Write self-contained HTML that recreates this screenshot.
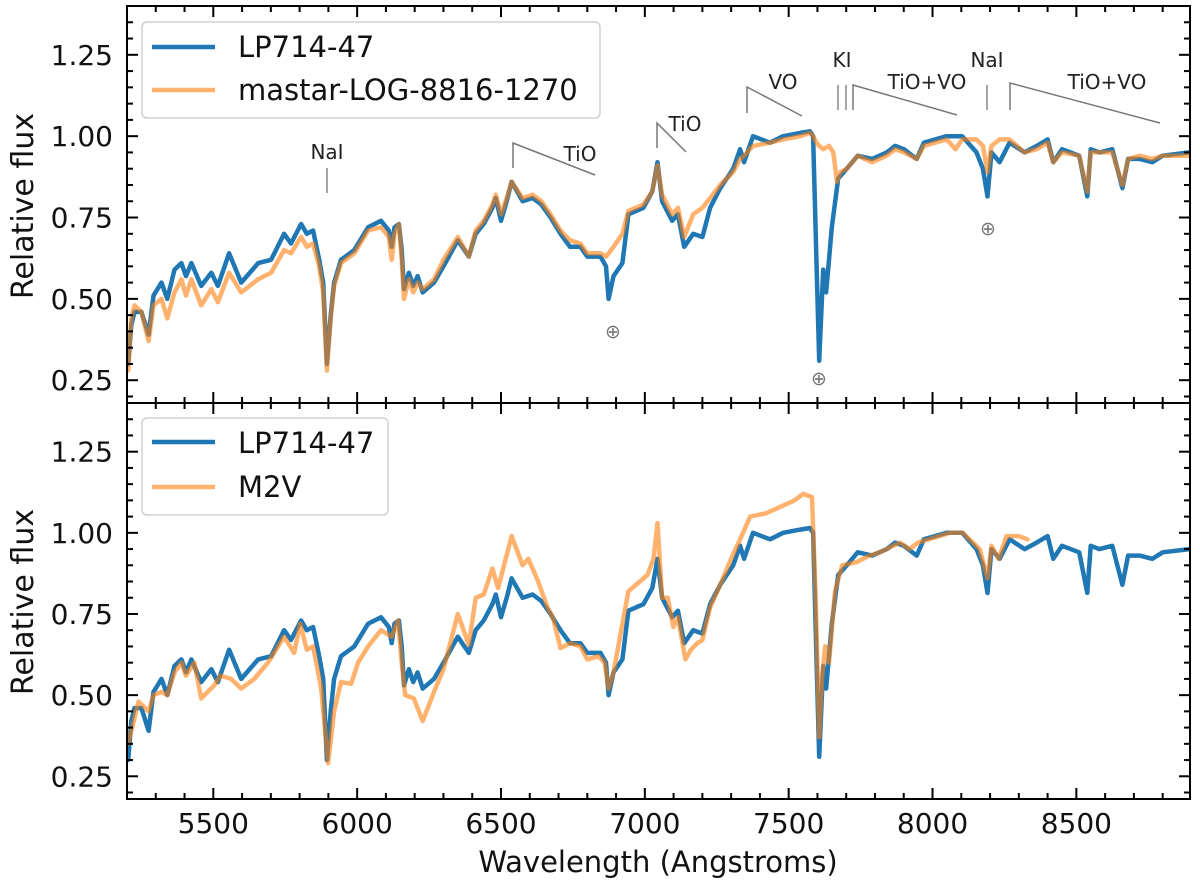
<!DOCTYPE html>
<html><head><meta charset="utf-8"><style>
html,body{margin:0;padding:0;background:#fff;}
svg{display:block;font-family:"DejaVu Sans","Liberation Sans",sans-serif;}
</style></head><body>
<svg id="chart" width="1200" height="890" viewBox="0 0 1200 890" xmlns="http://www.w3.org/2000/svg">
<g id="top-panel"></g>
<g id="bottom-panel"></g>
<g id="annotations" font-size="20" fill="#222" stroke="none">
  <text x="327" y="159" text-anchor="middle">NaI</text>
  <line x1="327" y1="168" x2="327" y2="193" stroke="#888" stroke-width="1.5"/>
  <polyline points="513,168 513,143 595,175" fill="none" stroke="#777" stroke-width="1.5"/>
  <text x="580" y="161" text-anchor="middle">TiO</text>
  <polyline points="657,148 657,123 686,152" fill="none" stroke="#777" stroke-width="1.5"/>
  <text x="685" y="131" text-anchor="middle">TiO</text>
  <polyline points="747,113 747,87 802,116" fill="none" stroke="#777" stroke-width="1.5"/>
  <text x="783" y="89" text-anchor="middle">VO</text>
  <text x="842" y="67" text-anchor="middle">KI</text>
  <line x1="838" y1="85" x2="838" y2="110" stroke="#888" stroke-width="1.5"/>
  <line x1="846" y1="85" x2="846" y2="110" stroke="#888" stroke-width="1.5"/>
  <polyline points="853,110 853,85 957,115" fill="none" stroke="#777" stroke-width="1.5"/>
  <text x="927" y="89" text-anchor="middle">TiO+VO</text>
  <text x="987" y="67" text-anchor="middle">NaI</text>
  <line x1="987" y1="85" x2="987" y2="110" stroke="#888" stroke-width="1.5"/>
  <polyline points="1010,110 1010,83 1160,123" fill="none" stroke="#777" stroke-width="1.5"/>
  <text x="1107" y="89" text-anchor="middle">TiO+VO</text>
  <text x="613" y="338" text-anchor="middle" font-size="19" fill="#777">⊕</text>
  <text x="819" y="385" text-anchor="middle" font-size="19" fill="#777">⊕</text>
  <text x="988" y="235" text-anchor="middle" font-size="19" fill="#777">⊕</text>
</g>
<g>
  <rect x="142" y="22" width="458" height="96" rx="5" fill="#fff" fill-opacity="0.85" stroke="#d0d0d0" stroke-width="1.5"/>
  <line x1="152" y1="47" x2="215" y2="47" stroke="#1f77b4" stroke-width="4.5"/>
  <text x="238" y="57" font-size="29" fill="#111">LP714-47</text>
  <line x1="152" y1="90" x2="215" y2="90" stroke="#ff7f0e" stroke-opacity="0.6" stroke-width="4.5"/>
  <text x="238" y="100" font-size="29" fill="#111">mastar-LOG-8816-1270</text>
</g>
<g>
  <rect x="142" y="418" width="246" height="97" rx="5" fill="#fff" fill-opacity="0.85" stroke="#d0d0d0" stroke-width="1.5"/>
  <line x1="152" y1="442" x2="215" y2="442" stroke="#1f77b4" stroke-width="4.5"/>
  <text x="238" y="453" font-size="29" fill="#111">LP714-47</text>
  <line x1="152" y1="487" x2="215" y2="487" stroke="#ff7f0e" stroke-opacity="0.6" stroke-width="4.5"/>
  <text x="238" y="497" font-size="29" fill="#111">M2V</text>
</g>
<text x="658" y="872" text-anchor="middle" font-size="29" fill="#111">Wavelength (Angstroms)</text>
<text transform="translate(33,206) rotate(-90)" text-anchor="middle" font-size="30" fill="#111">Relative flux</text>
<text transform="translate(33,602) rotate(-90)" text-anchor="middle" font-size="30" fill="#111">Relative flux</text>
</svg>
<script>
const blueW = [5204,5215,5226,5250,5275,5292,5320,5340,5365,5389,5405,5424,5458,5493,5516,5555,5597,5656,5701,5746,5770,5805,5825,5847,5868,5882,5895,5908,5920,5944,5990,6038,6083,6110,6120,6130,6145,6155,6163,6180,6195,6210,6228,6267,6300,6350,6388,6412,6440,6470,6482,6500,6520,6537,6575,6610,6640,6672,6707,6740,6776,6800,6846,6865,6874,6891,6922,6943,6995,7026,7044,7060,7095,7115,7137,7168,7200,7227,7262,7307,7331,7345,7376,7435,7481,7540,7574,7585,7597,7606,7613,7620,7630,7640,7650,7672,7702,7740,7790,7841,7870,7900,7945,7970,8049,8103,8153,8175,8191,8205,8233,8268,8320,8362,8400,8420,8450,8510,8538,8550,8580,8625,8660,8680,8720,8764,8800,8893];
const blueV = [0.30,0.42,0.46,0.46,0.39,0.51,0.55,0.50,0.59,0.61,0.57,0.61,0.54,0.58,0.54,0.64,0.55,0.61,0.62,0.70,0.67,0.73,0.70,0.71,0.62,0.55,0.30,0.45,0.55,0.62,0.65,0.72,0.74,0.71,0.66,0.72,0.73,0.65,0.53,0.58,0.54,0.57,0.52,0.55,0.60,0.68,0.63,0.70,0.73,0.78,0.81,0.74,0.80,0.86,0.80,0.81,0.79,0.75,0.70,0.66,0.66,0.63,0.63,0.60,0.50,0.57,0.61,0.76,0.78,0.83,0.92,0.80,0.74,0.76,0.66,0.70,0.69,0.78,0.84,0.90,0.96,0.92,1.00,0.98,1.00,1.01,1.015,1.00,0.60,0.31,0.45,0.59,0.52,0.62,0.72,0.87,0.90,0.94,0.93,0.95,0.97,0.96,0.93,0.98,1.00,1.00,0.95,0.90,0.815,0.95,0.92,0.98,0.95,0.97,0.99,0.92,0.96,0.94,0.815,0.96,0.95,0.96,0.84,0.93,0.93,0.92,0.94,0.95];
const mastarW = [5204,5215,5226,5250,5275,5292,5320,5340,5365,5389,5405,5424,5458,5493,5516,5555,5597,5656,5701,5746,5770,5805,5825,5847,5868,5882,5895,5908,5920,5944,5990,6038,6083,6110,6120,6130,6145,6155,6163,6180,6195,6210,6228,6267,6300,6350,6388,6412,6440,6470,6482,6500,6520,6537,6575,6610,6640,6672,6707,6740,6776,6800,6846,6865,6874,6891,6922,6943,6995,7026,7044,7060,7095,7115,7137,7168,7200,7227,7262,7307,7331,7345,7376,7435,7481,7540,7574,7585,7597,7606,7620,7640,7655,7668,7680,7702,7740,7790,7841,7870,7900,7945,7970,8049,8080,8103,8153,8175,8191,8205,8233,8268,8320,8362,8400,8420,8450,8510,8538,8550,8580,8625,8660,8680,8720,8764,8800,8893];
const mastarV = [0.28,0.44,0.48,0.46,0.37,0.48,0.50,0.44,0.52,0.56,0.51,0.56,0.48,0.53,0.49,0.58,0.52,0.56,0.58,0.65,0.64,0.69,0.66,0.67,0.60,0.52,0.28,0.44,0.54,0.61,0.64,0.71,0.72,0.69,0.62,0.70,0.73,0.62,0.50,0.56,0.52,0.55,0.53,0.56,0.62,0.69,0.63,0.71,0.74,0.79,0.82,0.76,0.81,0.86,0.81,0.82,0.80,0.76,0.71,0.68,0.67,0.64,0.64,0.63,0.64,0.66,0.70,0.77,0.79,0.83,0.91,0.82,0.76,0.78,0.69,0.76,0.78,0.81,0.85,0.89,0.93,0.94,0.97,0.98,0.99,1.00,1.01,1.00,0.98,0.97,0.96,0.97,0.95,0.86,0.89,0.90,0.94,0.92,0.94,0.96,0.95,0.93,0.97,0.99,0.96,0.99,0.99,0.97,0.89,0.97,0.99,0.99,0.95,0.96,0.98,0.92,0.95,0.94,0.83,0.95,0.95,0.95,0.85,0.93,0.94,0.93,0.94,0.94];
const m2vW = [5204,5240,5275,5292,5320,5340,5365,5389,5405,5434,5458,5503,5525,5562,5597,5642,5690,5746,5781,5802,5825,5847,5875,5899,5920,5944,5979,6003,6038,6083,6120,6142,6155,6167,6197,6228,6267,6300,6350,6388,6412,6440,6470,6490,6537,6575,6595,6627,6662,6680,6707,6740,6776,6800,6839,6860,6874,6891,6943,7009,7030,7044,7060,7080,7099,7115,7141,7160,7182,7200,7227,7262,7300,7331,7366,7420,7470,7520,7550,7581,7594,7606,7616,7627,7640,7661,7686,7737,7780,7817,7887,7920,7950,8060,8105,8164,8191,8205,8230,8257,8300,8330];
const m2vV = [0.35,0.48,0.45,0.50,0.51,0.50,0.57,0.60,0.56,0.60,0.49,0.53,0.56,0.55,0.52,0.55,0.60,0.68,0.63,0.72,0.64,0.65,0.52,0.29,0.45,0.54,0.535,0.60,0.65,0.70,0.68,0.73,0.60,0.50,0.49,0.42,0.51,0.58,0.75,0.655,0.80,0.81,0.89,0.83,0.99,0.90,0.92,0.855,0.77,0.74,0.645,0.66,0.65,0.61,0.62,0.60,0.52,0.57,0.82,0.87,0.92,1.03,0.80,0.80,0.71,0.74,0.61,0.64,0.66,0.67,0.77,0.84,0.92,0.98,1.05,1.06,1.08,1.10,1.12,1.11,0.80,0.37,0.55,0.65,0.60,0.82,0.90,0.91,0.93,0.94,0.97,0.95,0.97,1.00,1.00,0.95,0.86,0.96,0.92,0.99,0.99,0.98];
const xTickLabels = ["5500","6000","6500","7000","7500","8000","8500"];
const yTickLabels = ["0.25","0.50","0.75","1.00","1.25"];

const NS = "http://www.w3.org/2000/svg";
const X0 = 127, X1 = 1190, WMIN = 5200, WMAX = 8895;
const VMIN = 0.18, VMAX = 1.40;
function xScale(w){ return X0 + (w - WMIN) / (WMAX - WMIN) * (X1 - X0); }
function makeY(top, bottom){ return v => bottom - (v - VMIN) / (VMAX - VMIN) * (bottom - top); }
function el(tag, attrs, parent){ const e = document.createElementNS(NS, tag); for (const k in attrs) e.setAttribute(k, attrs[k]); parent.appendChild(e); return e; }

function drawPanel(g, top, bottom, seriesList, showXLabels){
  const y = makeY(top, bottom);
  const clipId = 'clip' + top;
  const defs = el('defs', {}, g);
  const cp = el('clipPath', {id: clipId}, defs);
  el('rect', {x: X0, y: top, width: X1 - X0, height: bottom - top}, cp);
  const sg = el('g', {'clip-path': 'url(#' + clipId + ')'}, g);
  seriesList.forEach(s => {
    const pts = s.w.map((w, i) => xScale(w).toFixed(1) + ',' + y(s.v[i]).toFixed(1)).join(' ');
    const p = el('polyline', {points: pts, fill: 'none', stroke: s.color, 'stroke-opacity': s.op, 'stroke-width': 4.5, 'stroke-linejoin': 'round', 'stroke-linecap': 'round'}, sg);
    
    
  });
  const ax = el('g', {stroke: '#000', 'stroke-width': 2, fill: 'none'}, g);
  
  
  el('rect', {x: X0, y: top, width: X1 - X0, height: bottom - top}, ax);
  for (let w = 5200; w <= 8800; w += 100) {
    const xx = xScale(w); const major = w % 500 === 0; const L = major ? 11 : 6;
    el('line', {x1: xx, y1: bottom, x2: xx, y2: bottom - L}, ax);
    el('line', {x1: xx, y1: top, x2: xx, y2: top + L}, ax);
  }
  for (let k = 4; k <= 28; k++) {
    const v = k * 0.05; const yy = y(v); const major = k % 5 === 0; const L = major ? 11 : 6;
    el('line', {x1: X0, y1: yy, x2: X0 + L, y2: yy}, ax);
    el('line', {x1: X1, y1: yy, x2: X1 - L, y2: yy}, ax);
  }
  yTickLabels.forEach(lbl => {
    const t = el('text', {x: 113, y: y(parseFloat(lbl)) + 10, 'text-anchor': 'end', 'font-size': 28, fill: '#111'}, g);
    t.textContent = lbl;
    
    
  });
  if (showXLabels) {
    xTickLabels.forEach(lbl => {
      const t = el('text', {x: xScale(parseFloat(lbl)), y: bottom + 34, 'text-anchor': 'middle', 'font-size': 28, fill: '#111'}, g);
      t.textContent = lbl;
      
      
    });
  }
}
drawPanel(document.getElementById('top-panel'), 6, 403, [
  {w: blueW, v: blueV, color: '#1f77b4', op: 1, name: 'series-lp714-47-top'},
  {w: mastarW, v: mastarV, color: '#ff7f0e', op: 0.6, name: 'series-mastar'}
], false);
drawPanel(document.getElementById('bottom-panel'), 403, 799, [
  {w: blueW, v: blueV, color: '#1f77b4', op: 1, name: 'series-lp714-47-bottom'},
  {w: m2vW, v: m2vV, color: '#ff7f0e', op: 0.6, name: 'series-m2v'}
], true);
</script>
</body></html>
